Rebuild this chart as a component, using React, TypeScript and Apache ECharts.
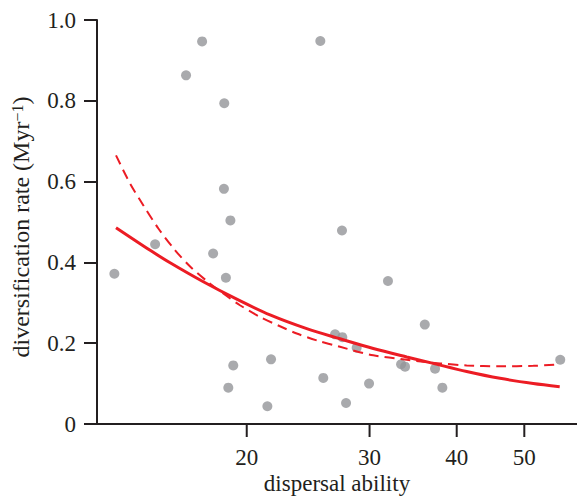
import React, { useEffect, useRef } from "react";
import * as echarts from "echarts";

// scatter points: dispersal ability (log axis) vs diversification rate
const dispersal = [12.92, 14.78, 16.37, 17.26, 18.57, 18.55, 18.95, 17.9, 18.67, 19.13, 18.82, 21.67, 21.41, 25.5, 27.39, 25.75, 26.77, 27.42, 28.75, 27.76, 29.95, 31.88, 33.29, 33.73, 36.0, 37.24, 38.15, 56.3];
const rate = [0.372, 0.445, 0.863, 0.947, 0.794, 0.582, 0.504, 0.422, 0.362, 0.145, 0.09, 0.16, 0.044, 0.948, 0.479, 0.114, 0.222, 0.215, 0.189, 0.052, 0.1, 0.354, 0.148, 0.142, 0.246, 0.137, 0.09, 0.159];

// solid fitted curve
const solidX = [12.99, 14.54, 15.53, 17.33, 19.35, 21.6, 24.38, 27.21, 30.37, 33.91, 37.02, 41.34, 46.14, 51.5, 56.2];
const solidY = [0.486, 0.43, 0.399, 0.352, 0.309, 0.27, 0.236, 0.211, 0.187, 0.166, 0.15, 0.13, 0.113, 0.1, 0.092];

// dashed fitted curve
const dashX = [12.99, 13.61, 14.22, 14.94, 15.79, 16.59, 17.53, 18.51, 19.56, 20.9, 22.32, 23.59, 25.2, 27.21, 30.37, 33.91, 37.85, 41.34, 46.14, 51.5, 55.6];
const dashY = [0.665, 0.595, 0.541, 0.484, 0.43, 0.39, 0.354, 0.323, 0.294, 0.265, 0.242, 0.224, 0.207, 0.191, 0.17, 0.159, 0.15, 0.145, 0.143, 0.144, 0.147];

const xTicks = [20, 30, 40, 50];
const xMin = 12.2;
const xMax = 59.5;

const TEXT = "#231f20";
const RED = "#ec1c24";
const GREY = "#939598";
const FONT = "Liberation Serif";

export default function App() {
  const ref = useRef<HTMLDivElement>(null);
  useEffect(() => {
    if (!ref.current) return;
    const chart = echarts.init(ref.current, null, { renderer: "svg" });
    chart.setOption({
      animation: false,
      backgroundColor: "#ffffff",
      textStyle: { fontFamily: FONT },
      grid: { left: 97, right: 0, top: 20, bottom: 80 },
      xAxis: {
        type: "log",
        min: xMin,
        max: xMax,
        name: "dispersal ability",
        nameLocation: "middle",
        nameGap: 48,
        nameTextStyle: { fontFamily: FONT, fontSize: 23, color: TEXT },
        axisLine: { lineStyle: { color: TEXT, width: 2 } },
        axisTick: { show: false },
        axisLabel: { show: false },
        splitLine: { show: false },
        minorTick: { show: false },
      },
      yAxis: {
        type: "value",
        min: 0,
        max: 1,
        interval: 0.2,
        axisLine: { show: true, lineStyle: { color: TEXT, width: 2 } },
        axisTick: { show: true, length: 13, lineStyle: { color: TEXT, width: 2 } },
        axisLabel: {
          margin: 21,
          fontFamily: FONT,
          fontSize: 23,
          color: TEXT,
          formatter: (v: number) => (v === 0 ? "0" : v.toFixed(1)),
        },
        splitLine: { show: false },
      },
      series: [
        {
          type: "scatter",
          data: dispersal.map((x, i) => [x, rate[i]]),
          symbolSize: 10,
          itemStyle: { color: GREY },
          z: 2,
        },
        {
          type: "line",
          data: solidX.map((x, i) => [x, solidY[i]]),
          showSymbol: false,
          smooth: 0.3,
          lineStyle: { color: RED, width: 3 },
          z: 3,
        },
        {
          type: "line",
          data: dashX.map((x, i) => [x, dashY[i]]),
          showSymbol: false,
          smooth: 0.3,
          lineStyle: { color: RED, width: 2, type: [10, 6] },
          z: 3,
        },
      ],
    });

    const axisY = chart.convertToPixel({ yAxisIndex: 0 }, 0) as number;
    const graphics: any[] = [];
    xTicks.forEach((v) => {
      const px = chart.convertToPixel({ xAxisIndex: 0 }, v) as number;
      graphics.push({
        type: "line",
        shape: { x1: px, y1: axisY, x2: px, y2: axisY + 13 },
        style: { stroke: TEXT, lineWidth: 2 },
      });
      graphics.push({
        type: "text",
        x: px,
        y: axisY + 33,
        style: {
          text: String(v),
          fontFamily: FONT,
          fontSize: 23,
          fill: TEXT,
          align: "center",
          verticalAlign: "middle",
        },
      });
    });
    graphics.push({
      type: "text",
      x: 21,
      y: 227,
      rotation: Math.PI / 2,
      style: {
        text: "diversification rate (Myr{sup|−1})",
        fontFamily: FONT,
        fontSize: 24,
        fill: TEXT,
        align: "center",
        verticalAlign: "middle",
        rich: {
          sup: { fontFamily: FONT, fontSize: 16, fill: TEXT, verticalAlign: "top", padding: [0, 0, 8, 0] },
        },
      },
    });
    chart.setOption({ graphic: graphics });

    return () => chart.dispose();
  }, []);
  return (
    <div
      ref={ref}
      style={{ position: "fixed", left: 0, top: 0, width: 577, height: 504 }}
    />
  );
}
